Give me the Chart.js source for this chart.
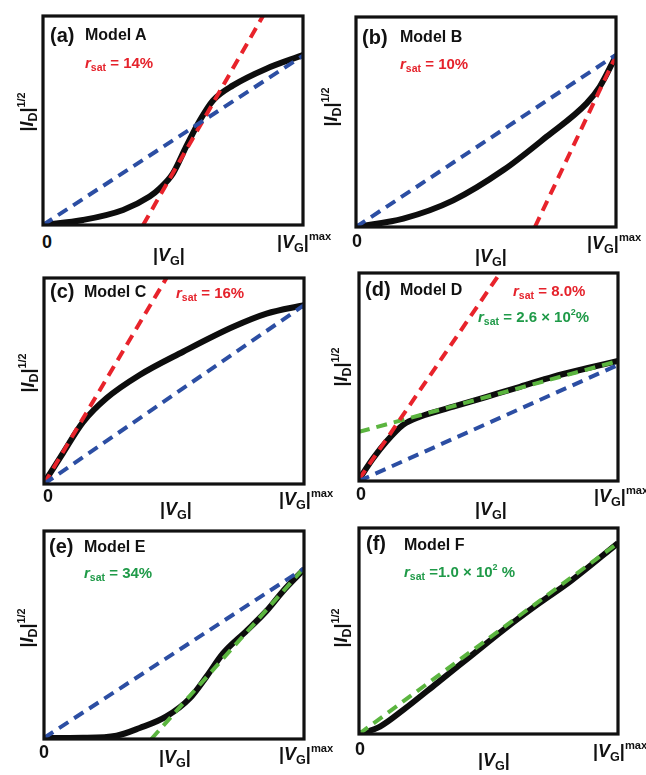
<!DOCTYPE html>
<html lang="en">
<head>
  <meta charset="UTF-8">
  <title>Model A-F saturation</title>
  <script src="https://cdn.jsdelivr.net/npm/chart.js"></script>
  <style>
    html, body {
      margin: 0;
      padding: 0;
      background: #fff;
    }
    body {
      position: relative;
      width: 646px;
      height: 775px;
      overflow: hidden;
      font-family: "Liberation Sans", Arial, sans-serif;
      font-weight: bold;
    }
    canvas {
      position: absolute;
    }
    .t {
      position: absolute;
      line-height: 1;
      white-space: nowrap;
      color: #111;
    }
    .red { color: #e5222b; }
    .green { color: #1f9a48; }
    .i { font-style: italic; }
    .sb { font-size: 0.7em; vertical-align: -0.3em; }
    .sp { font-size: 0.6em; vertical-align: 0.75em; }
    .ylab {
      position: absolute;
      line-height: 1;
      white-space: nowrap;
      font-size: 18px;
      color: #111;
      transform: translate(-50%, -50%) rotate(-90deg);
    }
  </style>
</head>
<body>
<script>
  // normalised |VG| (x) and |ID|^1/2 (y)
  const vgA = [0, 0.154, 0.308, 0.41, 0.449, 0.5, 0.551, 0.603, 0.654, 0.731, 0.859, 1];
  const idA = [0, 0.024, 0.072, 0.136, 0.175, 0.247, 0.376, 0.5, 0.596, 0.668, 0.748, 0.813];
  const vgB = [0, 0.182, 0.374, 0.567, 0.733, 0.887, 0.938, 1];
  const idB = [0, 0.04, 0.127, 0.271, 0.43, 0.589, 0.669, 0.815];
  const vgC = [0, 0.073, 0.15, 0.24, 0.368, 0.535, 0.728, 0.856, 1];
  const idC = [0.005, 0.15, 0.3, 0.416, 0.529, 0.642, 0.763, 0.827, 0.868];
  const vgD = [0, 0.054, 0.106, 0.17, 0.235, 0.364, 0.493, 0.622, 0.751, 0.88, 1];
  const idD = [0.008, 0.108, 0.19, 0.27, 0.309, 0.357, 0.405, 0.453, 0.502, 0.542, 0.577];
  const vgE = [0, 0.15, 0.279, 0.368, 0.471, 0.561, 0.625, 0.689, 0.779, 0.856, 0.92, 1];
  const idE = [0.005, 0.006, 0.016, 0.053, 0.109, 0.196, 0.3, 0.412, 0.52, 0.616, 0.712, 0.816];
  const vgF = [0, 0.081, 0.171, 0.3, 0.429, 0.558, 0.687, 0.816, 1];
  const idF = [0, 0.036, 0.117, 0.246, 0.376, 0.506, 0.627, 0.741, 0.927];

  // straight-line fits: [x0, y0, x1, y1]
  const blueFit = {
    A: [0, 0, 1, 0.81], B: [0, 0, 1, 0.82], C: [0, 0, 1, 0.868],
    D: [0, 0, 1, 0.558], E: [0, 0.005, 1, 0.82]
  };
  const redFit = {
    A: [0.385, 0, 0.846, 1], B: [0.688, 0, 1, 0.815],
    C: [0, 0, 0.471, 1], D: [0, 0.008, 0.545, 1]
  };
  const greenFit = {
    D: [0, 0.236, 1, 0.577], E: [0.413, 0, 1, 0.823], F: [0, 0, 1, 0.927]
  };

  const panelTags = ['(a)', '(b)', '(c)', '(d)', '(e)', '(f)'];
  const modelNames = ['Model A', 'Model B', 'Model C', 'Model D', 'Model E', 'Model F'];

  const panels = [
    { key: 'A', box: [43, 16, 260, 209], vg: vgA, id: idA },
    { key: 'B', box: [356, 17, 260, 210], vg: vgB, id: idB },
    { key: 'C', box: [44, 278, 260, 206], vg: vgC, id: idC },
    { key: 'D', box: [359, 273, 259, 208], vg: vgD, id: idD },
    { key: 'E', box: [44, 531, 260, 208], vg: vgE, id: idE },
    { key: 'F', box: [359, 528, 259, 206], vg: vgF, id: idF }
  ];

  const frame = {
    id: 'frame',
    afterDraw(chart) {
      const a = chart.chartArea, c = chart.ctx;
      c.save();
      c.lineWidth = 3.2;
      c.strokeStyle = '#111';
      c.strokeRect(a.left, a.top, a.right - a.left, a.bottom - a.top);
      c.restore();
    }
  };

  function fitLine(f, color, dash) {
    return {
      data: [{ x: f[0], y: f[1] }, { x: f[2], y: f[3] }],
      borderColor: color,
      borderWidth: 4,
      borderDash: dash,
      pointRadius: 0,
      order: 1
    };
  }

  const pad = 6;
  panels.forEach(p => {
    const [L, T, W, H] = p.box;
    const cv = document.createElement('canvas');
    cv.width = W + pad * 2;
    cv.height = H + pad * 2;
    cv.style.left = (L - pad) + 'px';
    cv.style.top = (T - pad) + 'px';
    document.body.appendChild(cv);

    const sets = [];
    if (blueFit[p.key]) sets.push(fitLine(blueFit[p.key], '#2c4ea3', [11, 7]));
    if (redFit[p.key]) sets.push(fitLine(redFit[p.key], '#e8232b', [11, 7]));
    if (greenFit[p.key]) sets.push(fitLine(greenFit[p.key], '#5bb53f', [11, 7]));
    sets.push({
      data: p.vg.map((x, i) => ({ x: x, y: p.id[i] })),
      borderColor: '#0d0d0d',
      borderWidth: 6,
      cubicInterpolationMode: 'monotone',
      pointRadius: 0,
      order: 3
    });

    new Chart(cv, {
      type: 'line',
      data: { datasets: sets },
      options: {
        responsive: false,
        animation: false,
        layout: { padding: pad },
        plugins: { legend: { display: false }, tooltip: { enabled: false } },
        scales: {
          x: { type: 'linear', min: 0, max: 1, display: false },
          y: { type: 'linear', min: 0, max: 1, display: false }
        }
      },
      plugins: [frame]
    });
  });

  // text: [html, class, left, top, size]
  const rs = '<span class="i">r</span><span class="sb">sat</span>';
  const vgMax = '|<span class="i">V</span><span class="sb">G</span>|<span class="sp" style="font-size:0.62em">max</span>';
  const vg = '|<span class="i">V</span><span class="sb">G</span>|';
  const texts = [
    [panelTags[0], '', 50, 25, 20], [modelNames[0], '', 85, 27, 16], [rs + ' = 14%', 'red', 85, 55, 15],
    [panelTags[1], '', 362, 27, 20], [modelNames[1], '', 400, 29, 16], [rs + ' = 10%', 'red', 400, 56, 15],
    [panelTags[2], '', 50, 281, 20], [modelNames[2], '', 84, 284, 16], [rs + ' = 16%', 'red', 176, 285, 15],
    [panelTags[3], '', 365, 279, 20], [modelNames[3], '', 400, 282, 16], [rs + ' = 8.0%', 'red', 513, 283, 15],
    [rs + ' = 2.6 × 10<span class="sp">2</span>%', 'green', 478, 308, 15],
    [panelTags[4], '', 49, 536, 20], [modelNames[4], '', 84, 539, 16], [rs + ' = 34%', 'green', 84, 565, 15],
    [panelTags[5], '', 366, 533, 20], [modelNames[5], '', 404, 537, 16], [rs + ' =1.0 × 10<span class="sp">2</span> %', 'green', 404, 563, 15],

    ['0', '', 42, 233, 18], [vgMax, '', 277, 231, 18], [vg, '', 153, 246, 18],
    ['0', '', 352, 232, 18], [vgMax, '', 587, 232, 18], [vg, '', 475, 247, 18],
    ['0', '', 43, 487, 18], [vgMax, '', 279, 488, 18], [vg, '', 160, 500, 18],
    ['0', '', 356, 485, 18], [vgMax, '', 594, 485, 18], [vg, '', 475, 500, 18],
    ['0', '', 39, 743, 18], [vgMax, '', 279, 743, 18], [vg, '', 159, 748, 18],
    ['0', '', 355, 740, 18], [vgMax, '', 593, 740, 18], [vg, '', 478, 751, 18]
  ];
  texts.forEach(t => {
    const d = document.createElement('div');
    d.className = 't ' + t[1];
    d.innerHTML = t[0];
    d.style.left = t[2] + 'px';
    d.style.top = t[3] + 'px';
    d.style.fontSize = t[4] + 'px';
    document.body.appendChild(d);
  });

  // rotated y-axis labels, centre points
  const yLabelCentres = [[28, 112], [332, 107], [29, 373], [342, 367], [28, 628], [342, 628]];
  yLabelCentres.forEach(c => {
    const d = document.createElement('div');
    d.className = 'ylab';
    d.innerHTML = '|<span class="i">I</span><span class="sb">D</span>|<span class="sp">1/2</span>';
    d.style.left = c[0] + 'px';
    d.style.top = c[1] + 'px';
    document.body.appendChild(d);
  });
</script>
</body>
</html>
